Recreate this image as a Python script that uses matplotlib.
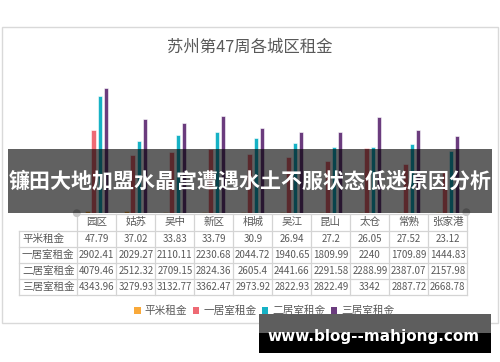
import matplotlib
matplotlib.use("Agg")
import matplotlib.pyplot as plt
from matplotlib.patches import Rectangle, Circle, Patch
import numpy as np

plt.rcParams['font.family'] = ['Noto Sans CJK SC', 'DejaVu Sans']

title = "苏州第47周各城区租金"
districts = ["园区", "姑苏", "吴中", "新区", "相城", "吴江", "昆山", "太仓", "常熟", "张家港"]
series_names = ["平米租金", "一居室租金", "二居室租金", "三居室租金"]
sqm_rent = [47.79, 37.02, 33.83, 33.79, 30.9, 26.94, 27.2, 26.05, 27.52, 23.12]
one_bed = [2902.41, 2029.27, 2110.11, 2230.68, 2044.72, 1940.65, 1809.99, 2240, 1709.89, 1444.83]
two_bed = [4079.46, 2512.32, 2709.15, 2824.36, 2605.4, 2441.66, 2291.58, 2288.99, 2387.07, 2157.98]
three_bed = [4343.96, 3279.93, 3132.77, 3362.47, 2973.92, 2822.93, 2822.49, 3342, 2887.72, 2668.78]
sqm_labels = ["47.79", "37.02", "33.83", "33.79", "30.9", "26.94", "27.2", "26.05", "27.52", "23.12"]
one_labels = ["2902.41", "2029.27", "2110.11", "2230.68", "2044.72", "1940.65", "1809.99", "2240", "1709.89", "1444.83"]
two_labels = ["4079.46", "2512.32", "2709.15", "2824.36", "2605.4", "2441.66", "2291.58", "2288.99", "2387.07", "2157.98"]
three_labels = ["4343.96", "3279.93", "3132.77", "3362.47", "2973.92", "2822.93", "2822.49", "3342", "2887.72", "2668.78"]
banner_text = "镰田大地加盟水晶宫遭遇水土不服状态低迷原因分析"
watermark_text = "www.blog--mahjong.com"

colors = ['#F9A93A', '#EE6A74', '#16B2C5', '#6B3C7E']
text_gray = '#595959'
grid_gray = '#d4d4d4'

W, H = 500, 362
fig = plt.figure(figsize=(W / 100, H / 100), dpi=100)
fig.patch.set_facecolor('white')

def fx(px):
    return px / W

def fy(py):
    return 1 - py / H

# bar axes
x0, x1 = 77.3, 467.3
ytop, ybot = 69.6, 212.5
ax = fig.add_axes([fx(x0), fy(ybot), fx(x1) - fx(x0), fy(ytop) - fy(ybot)])
ax.set_zorder(1)
ax.set_xlim(-0.5, len(districts) - 0.5)
ax.set_ylim(0, 5000)
ax.axis('off')

x = np.arange(len(districts))
offsets = [-0.231, -0.077, 0.077, 0.231]
width = 0.118
handles = []
for vals, off, c, name in zip([sqm_rent, one_bed, two_bed, three_bed], offsets, colors, series_names):
    ax.bar(x + off, vals, width=width, color=c, edgecolor='white', linewidth=0.4)
    handles.append(Patch(facecolor=c, edgecolor='none', label=name))

leg = ax.legend(handles=handles, loc='center', bbox_to_anchor=(fx(264.5), fy(311)),
                bbox_transform=fig.transFigure, ncol=4, frameon=False,
                fontsize=7.7, handlelength=0.6, handleheight=0.6,
                handletextpad=0.4, columnspacing=0.5, borderpad=0)
for t in leg.get_texts():
    t.set_color(text_gray)

# overlay
ov = fig.add_axes([0, 0, 1, 1])
ov.set_zorder(5)
ov.set_xlim(0, W)
ov.set_ylim(H, 0)
ov.patch.set_alpha(0)
ov.axis('off')

# chart border
ov.add_patch(Rectangle((1.7, 27.3), 497.5 - 1.7, 323 - 27.3, fill=False, edgecolor='#d9d9d9', linewidth=1.0))

# title
ov.text(250, 47, title, ha='center', va='center', fontsize=11.8, color=text_gray)

# data table
col_w = 39.0
lab_x0 = 19.3
rows_y = [213.5, 230.5, 246.5, 262.5, 278.5, 294.5]
ov.plot([x0, x1], [rows_y[0]] * 2, color=grid_gray, lw=0.9)
for yy in rows_y[1:]:
    ov.plot([lab_x0, x1], [yy, yy], color=grid_gray, lw=0.9)
ov.plot([lab_x0, lab_x0], [rows_y[1], rows_y[-1]], color=grid_gray, lw=0.9)
for i in range(len(districts) + 1):
    xx = x0 + i * col_w
    ov.plot([xx, xx], [rows_y[0], rows_y[-1]], color=grid_gray, lw=0.9)

for i, d in enumerate(districts):
    cx = x0 + col_w * (i + 0.5)
    ov.text(cx, (rows_y[0] + rows_y[1]) / 2, d, ha='center', va='center', fontsize=7.6, color=text_gray)

row_data = [sqm_labels, one_labels, two_labels, three_labels]
for r, (name, labels) in enumerate(zip(series_names, row_data)):
    cy = (rows_y[r + 1] + rows_y[r + 2]) / 2
    ov.text(22, cy, name, ha='left', va='center', fontsize=7.6, color=text_gray)
    for i, lab in enumerate(labels):
        cx = x0 + col_w * (i + 0.5)
        ov.text(cx, cy, lab, ha='center', va='center', fontsize=7.0, color=text_gray)

# handle dots
ov.add_patch(Circle((76.8, 213.2), 3.2, color='#c8c8c8', zorder=6))
ov.add_patch(Circle((466.3, 212.2), 3.2, color='#c8c8c8', zorder=6))

# banner
ov.add_patch(Rectangle((8, 149), 484, 64, facecolor='black', alpha=0.62, edgecolor='none', zorder=7))
ov.text(250, 181, banner_text, ha='center', va='center', fontsize=15.1,
        fontweight='bold', color='white', zorder=8)

# watermark box
ov.add_patch(Rectangle((259, 314.3), 232, 18.4, facecolor='#5e5e5e', edgecolor='none', zorder=9))
ov.add_patch(Rectangle((259, 332.7), 232, 20.0, facecolor='black', edgecolor='none', zorder=9))
ov.text(374, 336.5, watermark_text, ha='center', va='center', fontsize=11,
        fontweight='bold', color='white', family='DejaVu Sans', zorder=10)

fig.savefig('out.png', dpi=100)
